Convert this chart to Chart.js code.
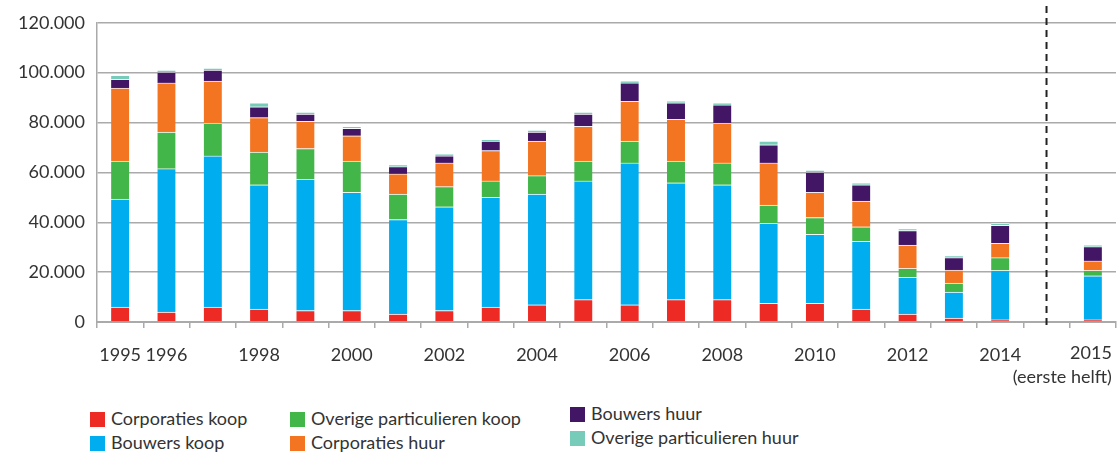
<!DOCTYPE html>
<html>
<head>
<meta charset="utf-8">
<script src="https://cdn.jsdelivr.net/npm/chart.js@4"></script>
<style>
  body { margin: 0; background: #fff; font-family: Lato, sans-serif; }
  #wrap { position: relative; width: 1118px; height: 452px; }
  #chartBox { position: absolute; left: 0; top: 0; width: 1118px; height: 388px; }
  .leg { position: absolute; font-size: 18px; color: #333; white-space: nowrap; line-height: 20px; }
  .leg span.box { display: inline-block; width: 15px; height: 15px; margin-right: 6px; vertical-align: -2px; }
</style>
</head>
<body>
<div id="wrap">
  <div id="chartBox"><canvas id="barChart"></canvas></div>
  <div id="legend"></div>
</div>
<script>
// categories (empty slot before 2015 holds the dashed separator)
var years = ['1995','1996','1997','1998','1999','2000','2001','2002','2003','2004','2005','2006','2007','2008','2009','2010','2011','2012','2013','2014','','2015']
var tickLabels = ['1995','1996','','1998','','2000','','2002','','2004','','2006','','2008','','2010','','2012','','2014','',['2015','(eerste helft)']]

// values per series
var corporatiesKoop = [6000,4000,6000,5200,4600,4600,3200,4600,6000,6900,9000,6900,9000,9000,7500,7500,5200,3200,1600,900,null,900]
var bouwersKoop = [43300,57500,60600,49800,52600,47400,37900,41600,44000,44400,47600,56900,46800,46000,32100,27700,27200,14700,10400,19800,null,17600]
var overigeKoop = [15200,14700,13200,13100,12400,12500,10200,8100,6600,7400,7900,8800,8700,8800,7300,6700,5800,3600,3600,5100,null,2200]
var corporatiesHuur = [29300,19700,16800,13900,10900,10200,8100,9500,12200,13900,14000,15900,16800,16000,16900,10100,10300,9400,5200,5800,null,3800]
var bouwersHuur = [3500,4300,4400,4300,2900,3000,2900,2800,3800,3600,4900,7400,6600,7300,7300,8100,6500,5800,5000,7200,null,5700]
var overigeHuur = [1600,800,800,1600,700,800,800,800,600,700,700,800,800,800,1500,800,800,800,800,800,null,700]

var seriesNames = ['Corporaties koop','Bouwers koop','Overige particulieren koop','Corporaties huur','Bouwers huur','Overige particulieren huur']
var seriesColors = ['#ee2a24','#00aeef','#43b649','#f47521','#421565','#77cbb9']
var seriesData = [corporatiesKoop, bouwersKoop, overigeKoop, corporatiesHuur, bouwersHuur, overigeHuur]

var yTicks = [0,20000,40000,60000,80000,100000,120000]

function fmt(v) {
    return v.toString().replace(/\B(?=(\d{3})+(?!\d))/g, '.')
}

// dashed line through the empty category, and the right-aligned 2015 label
var separator = {
    id: 'separator',
    afterDatasetsDraw: function(chart) {
        var idx = years.indexOf('')
        var x = chart.scales.x.getPixelForValue(idx)
        var c = chart.ctx
        c.save()
        c.strokeStyle = '#222'
        c.lineWidth = 2
        c.setLineDash([7, 5])
        c.beginPath()
        c.moveTo(x, 6)
        c.lineTo(x, chart.chartArea.bottom + 4)
        c.stroke()
        c.restore()
    },
    afterDraw: function(chart) {
        var last = tickLabels.length - 1
        var lines = tickLabels[last]
        var x = chart.scales.x.getPixelForValue(last) + 19
        var y = chart.chartArea.bottom + 22
        var c = chart.ctx
        c.save()
        c.fillStyle = '#333'
        c.font = '18px Lato'
        c.textAlign = 'right'
        c.textBaseline = 'top'
        lines.forEach(function(t, i) { c.fillText(t, x, y + i * 24) })
        c.restore()
    }
}

var ctx = document.getElementById('barChart').getContext('2d')
var myChart = new Chart(ctx, {
    type: 'bar',
    data: {
        labels: years,
        datasets: seriesNames.map(function(name, i) {
            return {
                label: name,
                data: seriesData[i],
                backgroundColor: seriesColors[i],
                borderColor: 'rgba(255,255,255,0.5)',
                borderWidth: {top: 1},
                borderSkipped: false,
                barThickness: 18
            }
        })
    },
    options: {
        responsive: true,
        maintainAspectRatio: false,
        animation: false,
        layout: { padding: { top: 18, right: 2, left: 0, bottom: 0 } },
        plugins: {
            legend: { display: false },
            tooltip: { enabled: false }
        },
        scales: {
            x: {
                stacked: true,
                afterFit: function(s) { s.paddingLeft = 0; s.paddingRight = 0; s.height = 66 },
                grid: { display: true, drawOnChartArea: false, drawTicks: true, tickLength: 6, color: '#aaa', lineWidth: 1.5 },
                border: { display: true, color: '#aaa', width: 2 },
                ticks: {
                    autoSkip: false,
                    maxRotation: 0,
                    padding: 16,
                    color: '#333',
                    font: { family: 'Lato', size: 18 },
                    callback: function(v, i) { return i === tickLabels.length - 1 ? '' : tickLabels[i] }
                }
            },
            y: {
                stacked: true,
                min: 0,
                max: 120000,
                afterFit: function(s) { s.width = 97 },
                afterBuildTicks: function(s) { s.ticks = yTicks.map(function(v) { return {value: v} }) },
                grid: { color: '#aaa', lineWidth: 1.5, drawTicks: false },
                border: { display: true, color: '#aaa', width: 1.5 },
                ticks: {
                    padding: 12,
                    color: '#333',
                    font: { family: 'Lato', size: 18 },
                    callback: function(v) { return fmt(v) }
                }
            }
        }
    },
    plugins: [separator]
})

// legend in three columns, two rows each
var legPos = [[90, 408], [90, 432], [290, 408], [290, 432], [570, 403], [570, 427]]
var legend = document.getElementById('legend')
myChart.data.datasets.forEach(function(ds, i) {
    var d = document.createElement('div')
    d.className = 'leg'
    d.style.left = legPos[i][0] + 'px'
    d.style.top = legPos[i][1] + 'px'
    d.innerHTML = '<span class="box" style="background:' + ds.backgroundColor + '"></span>' + ds.label
    legend.appendChild(d)
})
</script>
</body>
</html>
